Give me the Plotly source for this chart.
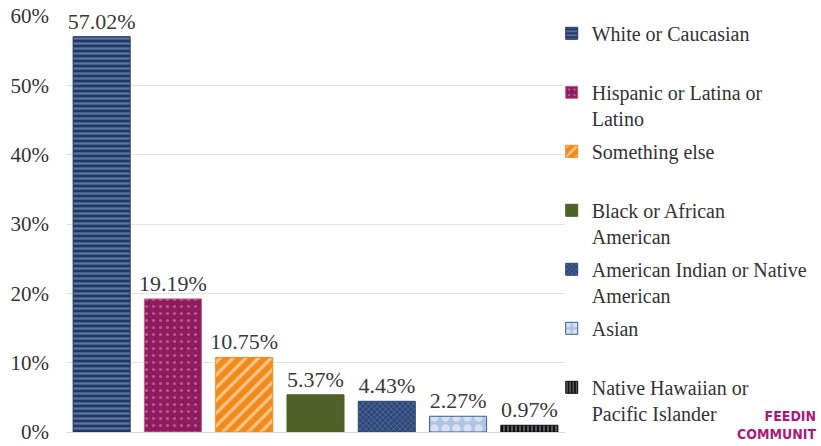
import plotly.graph_objects as go

categories = ["White or Caucasian", "Hispanic or Latina or Latino", "Something else",
              "Black or African American", "American Indian or Native American",
              "Asian", "Native Hawaiian or Pacific Islander"]
legend_labels = ["White or Caucasian<br>&nbsp;", "Hispanic or Latina or<br>Latino", "Something else<br>&nbsp;",
                 "Black or African<br>American", "American Indian or Native<br>American",
                 "Asian<br>&nbsp;", "Native Hawaiian or<br>Pacific Islander"]
values = [57.02, 19.19, 10.75, 5.37, 4.43, 2.27, 0.97]
value_labels = ["57.02%", "19.19%", "10.75%", "5.37%", "4.43%", "2.27%", "0.97%"]
tick_vals = [0, 10, 20, 30, 40, 50, 60]
tick_text = ["0%", "10%", "20%", "30%", "40%", "50%", "60%"]

styles = [
    dict(bg="#1F3864", fg="#9DB4DA", shape="-", size=5, sol=0.45, line="#1F3864"),
    dict(bg="#8E1B5E", fg="#E49AC6", shape=".", size=7, sol=0.15, line="#C06090"),
    dict(bg="#F28A1A", fg="#FFFFFF", shape="/", size=9, sol=0.35, line="#F28A1A"),
    dict(bg="#4F6228", fg="#4F6228", shape="", size=8, sol=0.3, line="#4F6228"),
    dict(bg="#2D4777", fg="#8EA6CF", shape="x", size=4, sol=0.3, line="#2D4777"),
    dict(bg="#AFC3E3", fg="#FFFFFF", shape=".", size=11, sol=0.45, line="#3A5C94"),
    dict(bg="#111111", fg="#DDDDDD", shape="|", size=4, sol=0.35, line="#111111"),
]

serif = "Liberation Serif, Times New Roman, serif"
fig = go.Figure()
for cat, lab, v, vl, s in zip(categories, legend_labels, values, value_labels, styles):
    fig.add_trace(go.Bar(
        x=[cat], y=[v], name=lab, text=[vl], textposition="outside",
        constraintext="none",
        textfont=dict(family=serif, size=22, color="#3a3a3a"),
        cliponaxis=False, legendgroup=cat,
        marker=dict(color=s["bg"], line=dict(color=s["line"], width=1),
                    pattern=dict(shape=s["shape"], fgcolor=s["fg"], bgcolor=s["bg"],
                                 size=s["size"], solidity=s["sol"])),
    ))

fig.update_layout(
    width=821, height=446,
    margin=dict(l=66, r=256, t=16, b=14, autoexpand=False),
    paper_bgcolor="white", plot_bgcolor="white",
    barmode="overlay", bargap=0.2,
    font=dict(family=serif, size=21, color="#333333"),
    showlegend=True,
    legend=dict(xref="container", yref="container", x=0.672, y=0.969,
                xanchor="left", yanchor="top", valign="top",
                tracegroupgap=4, itemwidth=30, maxheight=1.0,
                font=dict(family=serif, size=20, color="#333333"),
                bgcolor="rgba(0,0,0,0)"),
    xaxis=dict(showticklabels=False, showgrid=False, showline=True,
               linecolor="#D9D9D9", linewidth=1, ticks=""),
    yaxis=dict(range=[0, 60], tickvals=tick_vals, ticktext=tick_text,
               showgrid=True, gridcolor="#E3E3E3", gridwidth=1, zeroline=False,
               showline=False, ticks="", ticklabelstandoff=16,
               tickfont=dict(family=serif, size=21, color="#333333")),
)

fig.add_annotation(text="<b>FEEDIN<br>COMMUNIT</b>", xref="paper", yref="paper",
                   x=1.507, y=-0.029, xanchor="right", yanchor="bottom", showarrow=False,
                   align="right",
                   font=dict(family="Liberation Sans Narrow, DejaVu Sans Condensed, sans-serif",
                             size=14, color="#B0177A"))

fig.write_html("out.html", config={"displayModeBar": False},
               post_script="document.body.style.margin='0';document.body.style.overflow='hidden';")
